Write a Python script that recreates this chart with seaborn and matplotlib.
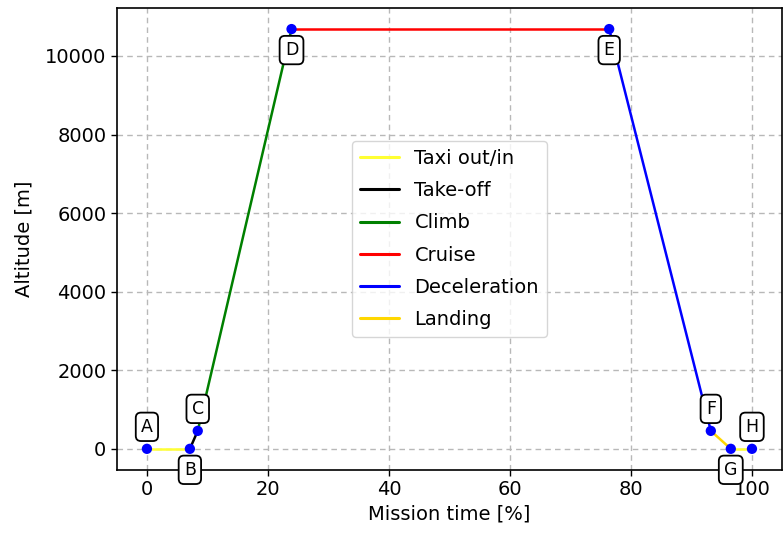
import matplotlib
matplotlib.use("Agg")
import matplotlib.pyplot as plt
import seaborn as sns
import pandas as pd

# Mission waypoints
point_names = ["A", "B", "C", "D", "E", "F", "G", "H"]
mission_time = [0.0, 7.1, 8.4, 23.9, 76.4, 93.2, 96.5, 100.0]
altitude = [0, 0, 457, 10685, 10685, 457, 0, 0]
label_side = ["above", "below", "above", "below", "below", "above", "below", "above"]

# Flight phases and their colours
phases = ["Taxi out/in", "Take-off", "Climb", "Cruise", "Deceleration", "Landing"]
phase_colors = ["#ffff33", "black", "green", "red", "blue", "gold"]
# Each segment: phase name, start waypoint, end waypoint
segments = [("Taxi out/in", 0, 1), ("Take-off", 1, 2), ("Climb", 2, 3),
            ("Cruise", 3, 4), ("Deceleration", 4, 5), ("Landing", 5, 6),
            ("Taxi out/in", 6, 7)]

rows = []
for seg_id, (name, i0, i1) in enumerate(segments):
    for i in (i0, i1):
        rows.append({"seg": seg_id, "phase": name,
                     "t": mission_time[i], "alt": altitude[i]})
df = pd.DataFrame(rows)

sns.set_style("white")
plt.rcParams["font.family"] = ["DejaVu Sans"]
plt.rcParams["text.color"] = "black"
plt.rcParams["axes.labelcolor"] = "black"
plt.rcParams["xtick.color"] = "black"
plt.rcParams["ytick.color"] = "black"

fig = plt.figure(figsize=(7.83, 5.40), dpi=100)
ax = fig.add_axes([0.149, 0.13, 0.85, 0.855])

palette = dict(zip(phases, phase_colors))
sns.lineplot(data=df, x="t", y="alt", hue="phase", units="seg", estimator=None,
             sort=False, palette=palette, hue_order=phases, linewidth=1.8, ax=ax)

pts = pd.DataFrame({"t": mission_time, "alt": altitude})
sns.scatterplot(data=pts, x="t", y="alt", color="blue", s=55, edgecolor="none",
                zorder=5, ax=ax, legend=False)

for name, t, a, side in zip(point_names, mission_time, altitude, label_side):
    dy = 22 if side == "above" else -21
    ax.annotate(name, (t, a), xytext=(0, dy), textcoords="offset pixels",
                ha="center", va="center", fontsize=12.5, zorder=6,
                bbox=dict(boxstyle="round,pad=0.3", fc="white", ec="black", lw=1.3))

ax.set_xlim(-5, 105)
ax.set_ylim(-534, 11219)
ax.set_xticks([0, 20, 40, 60, 80, 100])
ax.set_yticks([0, 2000, 4000, 6000, 8000, 10000])
ax.grid(True, linestyle=(0, (4, 3)), color="#b8b8b8", linewidth=1)
ax.set_xlabel("Mission time [%]", fontsize=14)
ax.set_ylabel("Altitude [m]", fontsize=14, labelpad=8)
ax.tick_params(labelsize=14, length=4, width=1, direction="out", bottom=True, left=True)
for sp in ax.spines.values():
    sp.set_color("black")
    sp.set_linewidth(1.2)

leg = ax.legend(loc="center", fontsize=14, frameon=True, handlelength=2.0,
                labelspacing=0.68)
leg.get_frame().set_edgecolor("#cccccc")
for h in leg.get_lines():
    h.set_linewidth(2.2)

fig.savefig("out.png", dpi=100)
